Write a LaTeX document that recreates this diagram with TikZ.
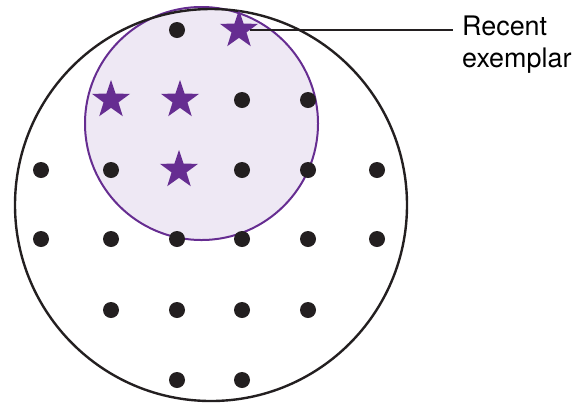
\documentclass[tikz,border=0pt]{standalone}
\usepackage{fontspec}
\setmainfont{TeX Gyre Heros}
\usepackage{tikz}
\usetikzlibrary{shapes.geometric,positioning}
\definecolor{exviolet}{RGB}{102,45,145}
\definecolor{exfill}{RGB}{238,232,244}
\definecolor{dotblack}{RGB}{35,31,32}

\begin{document}
\begin{tikzpicture}[
  x=1bp,y=-1bp,
  dot/.style   ={circle,fill=dotblack,inner sep=0pt,minimum size=16bp},
  exstar/.style={star,star points=5,star point ratio=2.55,fill=exviolet,
                 draw=none,inner sep=0pt,minimum size=40bp},
  lbl/.style   ={align=left,inner xsep=9bp,inner ysep=0pt,
                 font=\fontsize{27}{32}\selectfont},
  conn/.style  ={draw=dotblack,line width=2.2bp},
]
\useasboundingbox (0,0) rectangle (578,404);
\fill[exfill,draw=exviolet,line width=2bp] (201.5,123.5) circle[radius=116.5bp];
\draw[dotblack,line width=2.4bp] (211,205) circle[radius=196bp];

% dots
\foreach \x/\y [count=\i] in {177/30,
  242/100,308/100,
  41/170,111/170,242/170,308/170,377/170,
  41/239,111/239,177/239,242/239,308/239,377/239,
  111/310,177/310,242/310,308/310,
  177/380,242/380}
  \node[dot] (d\i) at (\x,\y) {};

% exemplars
\node[exstar] (ex1) at (239,30)  {};
\node[exstar] (ex2) at (111,100) {};
\node[exstar] (ex3) at (180,100) {};
\node[exstar] (ex4) at (179,170) {};

\node[lbl,anchor=north west] (recent) at (453,16) {Recent\\exemplar};
\draw[conn] (ex1) -- (ex1 -| recent.west);
\end{tikzpicture}
\end{document}
